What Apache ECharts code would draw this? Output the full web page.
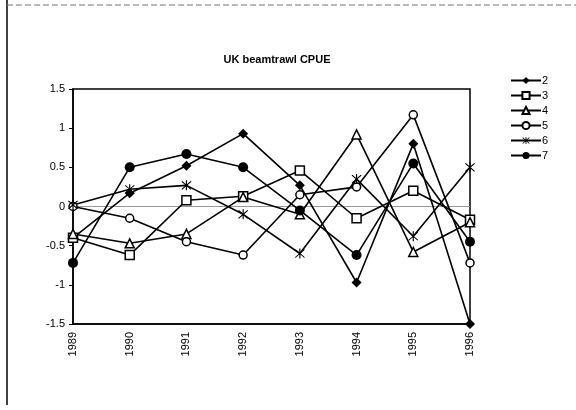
<!DOCTYPE html>
<html>
<head>
<meta charset="utf-8">
<script src="https://cdn.jsdelivr.net/npm/echarts@6/dist/echarts.min.js"></script>
<style>
  html, body { margin: 0; padding: 0; background: #fff; }
  #chart { width: 576px; height: 410px; }
</style>
</head>
<body>
<div id="chart"></div>
<script>
  const years = ['1989', '1990', '1991', '1992', '1993', '1994', '1995', '1996']
  const yTicks = [-1.5, -1, -0.5, 0, 0.5, 1, 1.5]

  const s2 = [-0.4, 0.17, 0.52, 0.93, 0.27, -0.97, 0.8, -1.5]
  const s3 = [-0.4, -0.62, 0.08, 0.13, 0.46, -0.15, 0.2, -0.17]
  const s4 = [-0.35, -0.47, -0.35, 0.12, -0.1, 0.92, -0.58, -0.2]
  const s5 = [0.0, -0.15, -0.45, -0.62, 0.15, 0.25, 1.17, -0.72]
  const s6 = [0.02, 0.22, 0.27, -0.1, -0.6, 0.35, -0.38, 0.5]
  const s7 = [-0.72, 0.5, 0.67, 0.5, -0.05, -0.62, 0.55, -0.45]

  const starPath = 'path://M9 0L11 0L11 20L9 20Z M1.3 2.7L2.7 1.3L18.7 17.3L17.3 18.7Z M17.3 1.3L18.7 2.7L2.7 18.7L1.3 17.3Z'

  const font = '"Liberation Sans", Arial, sans-serif'

  function line(name, data, symbol, size, filled) {
    return {
      name,
      type: 'line',
      data,
      symbol,
      symbolSize: size,
      showSymbol: true,
      lineStyle: { color: '#000', width: 1.6 },
      itemStyle: {
        color: filled ? '#000' : '#fff',
        borderColor: '#000',
        borderWidth: filled ? 0 : 1.5,
      },
      emphasis: { disabled: true },
      z: 3,
    }
  }

  const series = [
    line('2', s2, 'diamond', 10, true),
    line('3', s3, 'rect', 9, false),
    line('4', s4, 'triangle', 9, false),
    line('5', s5, 'circle', 8, false),
    line('6', s6, starPath, 10, true),
    line('7', s7, 'circle', 10, true),
  ]

  series[0].markLine = {
    silent: true,
    symbol: 'none',
    label: { show: false },
    lineStyle: { color: '#999', type: 'solid', width: 1 },
    data: [{ yAxis: 0 }],
    z: 1,
  }

  const chart = echarts.init(document.getElementById('chart'))
  chart.setOption({
    animation: false,
    backgroundColor: '#fff',
    textStyle: { fontFamily: font },
    title: {
      text: 'UK beamtrawl CPUE',
      left: 272,
      top: 49,
      textAlign: 'center',
      textStyle: { fontFamily: font, fontSize: 11, fontWeight: 'bold', color: '#000' },
    },
    legend: {
      orient: 'vertical',
      left: 505,
      top: 70,
      itemWidth: 30,
      itemHeight: 9,
      itemGap: 4,
      textStyle: { fontFamily: font, fontSize: 11, color: '#000', padding: [0, 0, 0, -4] },
      data: series.map((s) => s.name),
    },
    graphic: [
      { type: 'line', shape: { x1: 7, y1: 0, x2: 7, y2: 405 }, style: { stroke: '#000', lineWidth: 1.5 } },
      { type: 'line', shape: { x1: 7, y1: 5, x2: 576, y2: 5 }, style: { stroke: '#777', lineWidth: 1, lineDash: [6, 3] } },
    ],
    grid: {
      left: 73,
      right: 106,
      top: 89,
      bottom: 86,
      show: true,
      borderColor: '#000',
      borderWidth: 1.5,
    },
    xAxis: {
      type: 'category',
      data: years,
      boundaryGap: false,
      axisLine: { onZero: false, lineStyle: { color: '#000', width: 1.5 } },
      axisTick: { show: false },
      axisLabel: { rotate: 90, color: '#000', fontSize: 11, margin: 8, fontFamily: font },
      splitLine: { show: false },
    },
    yAxis: {
      type: 'value',
      min: yTicks[0],
      max: yTicks[yTicks.length - 1],
      interval: 0.5,
      axisLine: { show: true, lineStyle: { color: '#000', width: 1.5 } },
      axisTick: { show: true, length: 4, lineStyle: { color: '#000' } },
      axisLabel: { color: '#000', fontSize: 11, margin: 8, fontFamily: font },
      splitLine: { show: false },
    },
    series,
  })
</script>
</body>
</html>
